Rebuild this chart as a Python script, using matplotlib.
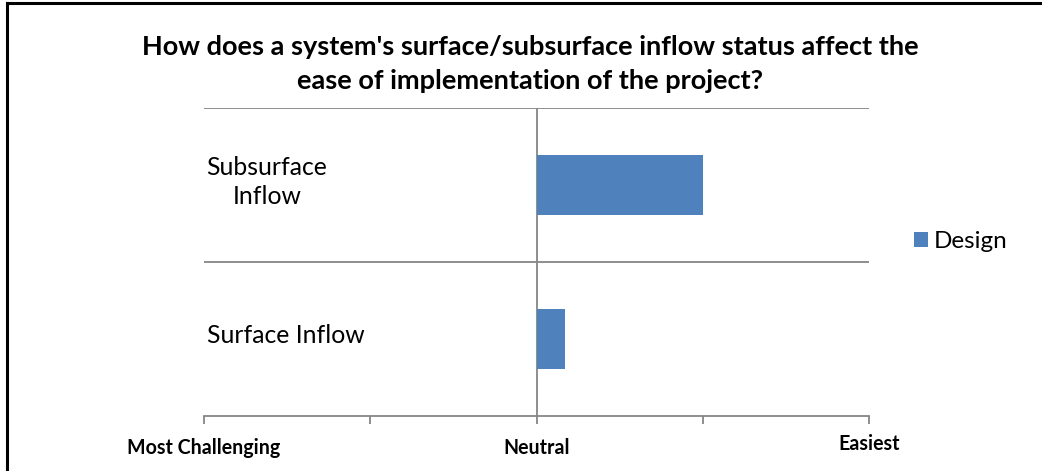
import matplotlib
matplotlib.use('Agg')
from matplotlib import pyplot as plt
from matplotlib.transforms import ScaledTranslation
from matplotlib.patches import Patch
from matplotlib.lines import Line2D

matplotlib.rcParams['font.family'] = ['Lato', 'DejaVu Sans']

categories = ['Surface Inflow', 'Subsurface\nInflow']
design = [0.17, 1.0]
tick_values = [-2, -1, 0, 1, 2]
tick_labels = ['Most Challenging', '', 'Neutral', '', 'Easiest']
title = "How does a system's surface/subsurface inflow status affect the\nease of implementation of the project?"

bar_color = '#4F81BD'
grid_color = '#868686'

fig = plt.figure(figsize=(10.42, 4.71), dpi=100)
ax = fig.add_axes([0.1958, 0.1168, 0.6382, 0.6539])

ypos = list(range(len(categories)))
ax.barh(ypos, design, height=0.39, color=bar_color, label='Design', zorder=3)

ax.set_xlim(-2, 2)
ax.set_ylim(-0.5, 1.5)
for sp in ['top', 'right', 'left']:
    ax.spines[sp].set_visible(False)
ax.spines['bottom'].set_color(grid_color)
ax.spines['bottom'].set_linewidth(1.3)
ax.axvline(0, color=grid_color, lw=1.3, zorder=2)
for yb in [0.5, 1.5]:
    ax.axhline(yb, color=grid_color, lw=1.3, zorder=1)

ax.set_yticks([])
ax.set_xticks(tick_values)
ax.set_xticklabels(tick_labels, fontsize=14.1, fontweight='bold')
ax.tick_params(axis='x', direction='out', length=6, width=1.3, color=grid_color, pad=10)
lab = ax.get_xticklabels()[4]
lab.set_transform(lab.get_transform() + ScaledTranslation(0, 4 / 100, fig.dpi_scale_trans))

for y, name in zip(ypos, categories):
    ax.text(-1.985, y + 0.02, name, ha='left', va='center', multialignment='center',
            fontsize=17.8, linespacing=1.35)

fig.text(0.509, 0.865, title, ha='center', va='center', fontsize=19.5, fontweight='bold', linespacing=1.5)

handles = [Patch(facecolor=bar_color, edgecolor='none')]
fig.legend(handles, ['Design'], loc='center left', bbox_to_anchor=(0.861, 0.487), frameon=False,
           fontsize=17.5, handlelength=0.57, handleheight=0.57, handletextpad=0.22, borderpad=0.2)

# outer frame (left and top only visible)
fig.add_artist(Line2D([0.0067, 0.0067], [0, 0.994], transform=fig.transFigure, color='black', lw=2.2))
fig.add_artist(Line2D([0.0067, 1], [0.994, 0.994], transform=fig.transFigure, color='black', lw=2.2))

plt.savefig('out.png', dpi=100)
